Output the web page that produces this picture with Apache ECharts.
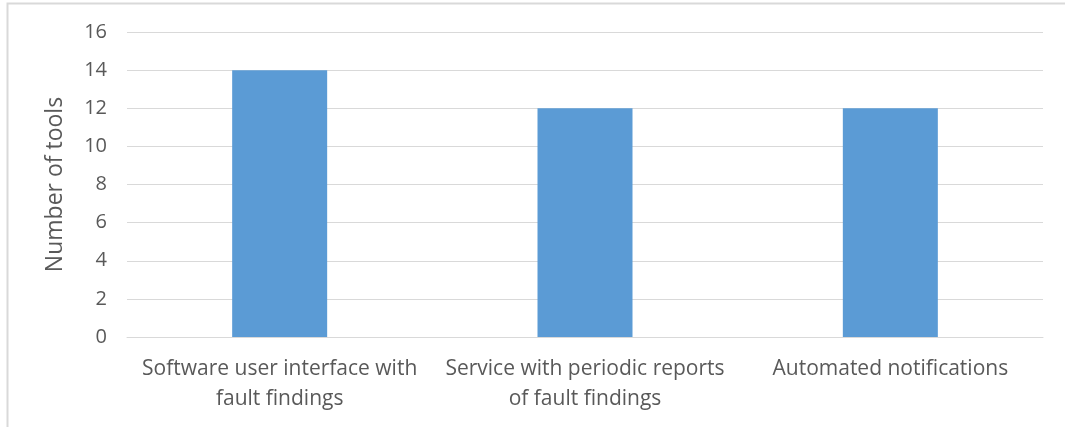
<!DOCTYPE html>
<html>
<head>
<meta charset="utf-8">
<script src="https://cdn.jsdelivr.net/npm/echarts@6/dist/echarts.min.js"></script>
<style>
  html, body { margin: 0; padding: 0; background: #fff; }
  #chart { width: 1065px; height: 427px; }
</style>
</head>
<body>
<div id="chart"></div>
<script>
    // data
    var categories = [
        'Software user interface with\nfault findings',
        'Service with periodic reports\nof fault findings',
        'Automated notifications'
    ];
    var toolCounts = [14, 12, 12];
    var yTicks = { min: 0, max: 16, interval: 2 };

    var myChart = echarts.init(document.getElementById('chart'));
    var option = {
        animation: false,
        backgroundColor: '#fff',
        textStyle: { fontFamily: 'Open Sans' },
        graphic: [{
            type: 'rect',
            shape: { x: 7.5, y: 3.5, width: 1100, height: 500 },
            style: { fill: 'none', stroke: '#d9d9d9', lineWidth: 2 },
            silent: true
        }],
        grid: { left: 127, right: 22, top: 32, bottom: 90, containLabel: false },
        xAxis: {
            type: 'category',
            data: categories,
            axisLine: { lineStyle: { color: '#d9d9d9', width: 1 } },
            axisTick: { show: false },
            axisLabel: {
                color: '#595959',
                fontSize: 21,
                lineHeight: 30,
                margin: 17,
                interval: 0
            }
        },
        yAxis: {
            type: 'value',
            min: yTicks.min,
            max: yTicks.max,
            interval: yTicks.interval,
            name: 'Number of tools',
            nameLocation: 'middle',
            nameGap: 60,
            nameRotate: 90,
            nameTextStyle: { color: '#595959', fontSize: 23 },
            axisLine: { show: false },
            axisTick: { show: false },
            axisLabel: { color: '#595959', fontSize: 20, margin: 20 },
            splitLine: { lineStyle: { color: '#d9d9d9', width: 1 } }
        },
        series: [{
            type: 'bar',
            data: toolCounts,
            barWidth: 95,
            itemStyle: { color: '#5b9bd5' }
        }]
    };
    myChart.setOption(option);
</script>
</body>
</html>
